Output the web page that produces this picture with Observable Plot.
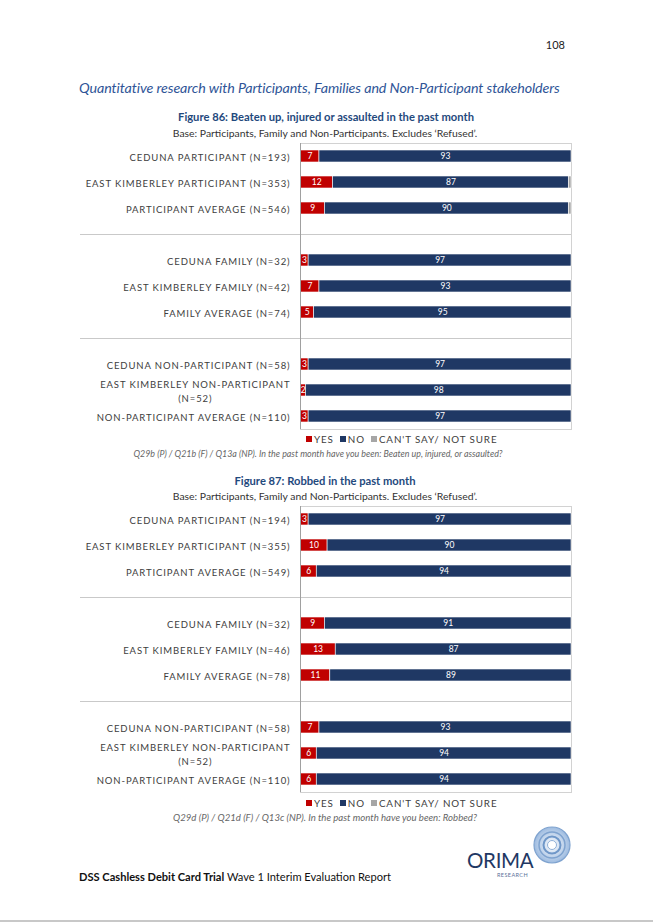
<!DOCTYPE html>
<html><head><meta charset="utf-8">
<script src="https://cdn.jsdelivr.net/npm/d3@7"></script>
<script src="https://cdn.jsdelivr.net/npm/@observablehq/plot@0.6"></script>
<style>
html,body{margin:0;padding:0;background:#fff;}
body{width:653px;height:923px;position:relative;overflow:hidden;font-family:Lato,"Open Sans",sans-serif;color:#222;}
.abs{position:absolute;white-space:nowrap;line-height:16px;}
.center{transform:translateX(-50%);}
.heading{font-style:italic;color:#2F5597;font-size:14.3px;letter-spacing:-0.1px;}
.ftitle{font-weight:bold;color:#1F497D;font-size:11.2px;}
.fsub{color:#333;font-size:10.4px;}
.fnote{font-style:italic;color:#666;font-size:9.6px;}
.chart{position:absolute;left:0;}
g[aria-label="y-axis tick label"] text{fill:#3d3d3d;letter-spacing:0.9px;}
.lg-swatches{min-height:0 !important;margin:0 !important;font-family:Lato,sans-serif !important;font-size:9.8px !important;color:#404040 !important;letter-spacing:0.9px;}
.lg-swatch{margin-right:6px !important;}
.lg-swatch > svg{margin-right:2px !important;}
</style></head><body>
<div class="abs" style="right:88px;top:37px;font-size:11px;">108</div>
<div class="abs heading" style="left:79px;top:80px;">Quantitative research with Participants, Families and Non-Participant stakeholders</div>

<div class="abs center ftitle" style="left:326px;top:109px;">Figure 86: Beaten up, injured or assaulted in the past month</div>
<div class="abs center fsub" style="left:325px;top:125px;">Base: Participants, Family and Non-Participants. Excludes ‘Refused’.</div>
<div id="chart86" class="chart" style="top:142px;"></div>
<div id="legend86" class="abs" style="left:306px;top:432px;line-height:14px;"></div>
<div class="abs center fnote" style="left:318px;top:446px;font-size:8.9px;">Q29b (P) / Q21b (F) / Q13a (NP). In the past month have you been: Beaten up, injured, or assaulted?</div>

<div class="abs center ftitle" style="left:325px;top:473px;">Figure 87: Robbed in the past month</div>
<div class="abs center fsub" style="left:325px;top:488px;">Base: Participants, Family and Non-Participants. Excludes ‘Refused’.</div>
<div id="chart87" class="chart" style="top:505px;"></div>
<div id="legend87" class="abs" style="left:306px;top:796px;line-height:14px;"></div>
<div class="abs center fnote" style="left:325px;top:810px;">Q29d (P) / Q21d (F) / Q13c (NP). In the past month have you been: Robbed?</div>

<svg class="abs" style="left:455px;top:820px;" width="130" height="65">
  <defs><radialGradient id="rg" cx="50%" cy="50%" r="50%"><stop offset="0" stop-color="#ffffff"/><stop offset="1" stop-color="#9dbbe0"/></radialGradient></defs>
  <circle cx="97" cy="25" r="18" fill="url(#rg)" stroke="#7fa3cf" stroke-width="1.2"/>
  <circle cx="97" cy="25" r="13" fill="none" stroke="#7fa3cf" stroke-width="1.5"/>
  <circle cx="97" cy="25" r="8.5" fill="none" stroke="#6f97c8" stroke-width="2"/>
  <circle cx="97" cy="25" r="4.5" fill="#ffffff" stroke="#8fb0d8" stroke-width="1"/>
  <text x="12" y="48" font-family="Lato,sans-serif" font-size="20.5" fill="#1F3864" letter-spacing="-0.3">ORIMA</text>
  <text x="42" y="56.5" font-family="Lato,sans-serif" font-size="5.5" fill="#5b6f99" letter-spacing="0.4">RESEARCH</text>
</svg>
<div class="abs" style="left:79px;top:869px;font-size:11.1px;color:#111;"><b>DSS Cashless Debit Card Trial</b> Wave 1 Interim Evaluation Report</div>
<div style="position:absolute;left:0;top:920px;width:653px;height:2px;background:#c8c8c8;"></div>

<script>
// ---- data ----
const responses = ["YES", "NO", "CAN'T SAY/ NOT SURE"];
const responseColors = ["#C00000", "#1F3864", "#A6A6A6"];

const participantRows86 = ["CEDUNA PARTICIPANT (N=193)", "EAST KIMBERLEY PARTICIPANT (N=353)", "PARTICIPANT AVERAGE (N=546)"];
const familyRows86 = ["CEDUNA FAMILY (N=32)", "EAST KIMBERLEY FAMILY (N=42)", "FAMILY AVERAGE (N=74)"];
const nonParticipantRows86 = ["CEDUNA NON-PARTICIPANT (N=58)", "EAST KIMBERLEY NON-PARTICIPANT\n(N=52)", "NON-PARTICIPANT AVERAGE (N=110)"];
const yes86 = [7, 12, 9, 3, 7, 5, 3, 2, 3];
const no86 = [93, 87, 90, 97, 93, 95, 97, 98, 97];
const cant86 = [0, 1, 1, 0, 0, 0, 0, 0, 0];

const participantRows87 = ["CEDUNA PARTICIPANT (N=194)", "EAST KIMBERLEY PARTICIPANT (N=355)", "PARTICIPANT AVERAGE (N=549)"];
const familyRows87 = ["CEDUNA FAMILY (N=32)", "EAST KIMBERLEY FAMILY (N=46)", "FAMILY AVERAGE (N=78)"];
const nonParticipantRows87 = ["CEDUNA NON-PARTICIPANT (N=58)", "EAST KIMBERLEY NON-PARTICIPANT\n(N=52)", "NON-PARTICIPANT AVERAGE (N=110)"];
const yes87 = [3, 10, 6, 9, 13, 11, 7, 6, 6];
const no87 = [97, 90, 94, 91, 87, 89, 93, 94, 94];
const cant87 = [0, 0, 0, 0, 0, 0, 0, 0, 0];

function makeChart(groups, yes, no, cant) {
  const rows = groups.flat();
  const spacers = groups.slice(1).map((g, i) => "__gap" + i);
  const domain = groups.flatMap((g, i) => i === 0 ? g : [spacers[i - 1], ...g]);
  const data = rows.flatMap((r, i) => [
    {row: r, response: responses[0], value: yes[i]},
    {row: r, response: responses[1], value: no[i]},
    {row: r, response: responses[2], value: cant[i]}
  ]);
  return Plot.plot({
    width: 653, height: 288,
    marginLeft: 300, marginRight: 82, marginTop: 1, marginBottom: 1,
    style: {fontFamily: "Lato, sans-serif", background: "transparent"},
    x: {domain: [0, 100], axis: null},
    y: {domain, paddingInner: 0.52, paddingOuter: 0.25, axis: null},
    color: {domain: responses, range: responseColors},
    marks: [
      Plot.frame({stroke: "#d2d2d2"}),
      Plot.ruleY(spacers, {stroke: "#c9c9c9", strokeWidth: 1, insetLeft: -220}),
      Plot.barX(data, Plot.stackX({x: "value", y: "row", fill: "response", stroke: "white", strokeWidth: 0.6})),
      Plot.text(data, Plot.stackX({x: "value", y: "row", text: d => (d.response !== responses[2] && d.value > 0) ? String(d.value) : "", fill: "white", fontSize: 8.5})),
      Plot.ruleX([0], {stroke: "#a0a0a0"}),
      Plot.axisY({ticks: rows, label: null, tickSize: 0, tickPadding: 10, fontSize: 9.5, lineHeight: 1.45})
    ]
  });
}

function centerMultiline(svg) {
  svg.querySelectorAll('g[aria-label="y-axis tick label"] text').forEach(t => {
    const spans = t.querySelectorAll("tspan");
    if (spans.length < 2) return;
    const w = Array.from(spans, s => s.getComputedTextLength());
    const mw = Math.max(...w);
    spans.forEach((s, i) => s.setAttribute("x", -(mw - w[i]) / 2));
  });
}

function makeLegend() {
  return Plot.legend({
    color: {type: "ordinal", domain: responses, range: responseColors},
    swatchSize: 6, className: "lg"
  });
}

const c86 = makeChart([participantRows86, familyRows86, nonParticipantRows86], yes86, no86, cant86);
document.getElementById("chart86").append(c86);
centerMultiline(c86);
const c87 = makeChart([participantRows87, familyRows87, nonParticipantRows87], yes87, no87, cant87);
document.getElementById("chart87").append(c87);
centerMultiline(c87);
document.getElementById("legend86").append(makeLegend());
document.getElementById("legend87").append(makeLegend());
</script>
</body></html>
